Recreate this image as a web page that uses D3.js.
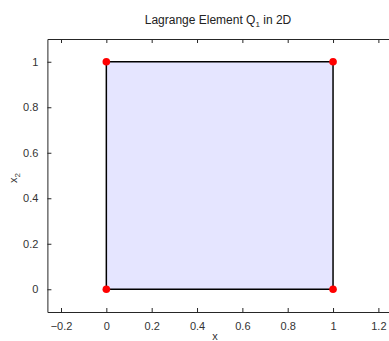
<!DOCTYPE html>
<html><head><meta charset="utf-8">
<script src="https://cdn.jsdelivr.net/npm/d3@7"></script>
<style>body{margin:0;background:#fff}svg{display:block}text{font-family:"Liberation Sans",Arial,sans-serif}</style>
</head><body><svg id="c" width="389" height="341"></svg>
<script>
const nodesX = [0, 1, 1, 0];
const nodesY = [0, 0, 1, 1];
const xTicks = [-0.2, 0, 0.2, 0.4, 0.6, 0.8, 1, 1.2];
const yTicks = [0, 0.2, 0.4, 0.6, 0.8, 1];
const xLim = [-0.26, 1.26];
const yLim = [-0.1, 1.1];

const svg = d3.select("#c");
const x = d3.scaleLinear().domain(xLim).range([47.4, 47.4 + 1.52 * 226.7]);
const y = d3.scaleLinear().domain(yLim).range([312, 39]);
const axisColor = "#262626";

const pts = nodesX.map((v, i) => [v, nodesY[i]]);
svg.append("path")
  .attr("d", d3.line().x(d => x(d[0])).y(d => y(d[1]))(pts) + "Z")
  .attr("fill", "#e5e5ff").attr("stroke", "#000").attr("stroke-width", 1.5);

svg.selectAll("circle.n").data(pts).enter().append("circle")
  .attr("cx", d => x(d[0])).attr("cy", d => y(d[1])).attr("r", 3.8).attr("fill", "#f00");

function fmt(d){ return d3.format("~g")(d); }
const gB = svg.append("g").attr("transform", `translate(0,${y(yLim[0])})`)
  .call(d3.axisBottom(x).tickValues(xTicks).tickSizeInner(-4).tickSizeOuter(0).tickPadding(10).tickFormat(fmt));
const gT = svg.append("g").attr("transform", `translate(0,${y(yLim[1])})`)
  .call(d3.axisTop(x).tickValues(xTicks).tickSizeInner(-4).tickSizeOuter(0).tickFormat(""));
const gL = svg.append("g").attr("transform", `translate(${x(xLim[0])},0)`)
  .call(d3.axisLeft(y).tickValues(yTicks).tickSizeInner(-4).tickSizeOuter(0).tickPadding(9).tickFormat(fmt));
[gB, gT, gL].forEach(g => {
  g.select(".domain").attr("stroke", axisColor).attr("stroke-width", 1);
  g.selectAll(".tick line").attr("stroke", axisColor);
  g.selectAll(".tick text").attr("fill", "#333").style("font-size", "11px").style("font-family", "Liberation Sans, Arial, sans-serif");
});

const title = svg.append("text").attr("x", 218).attr("y", 24).attr("text-anchor", "middle")
  .attr("fill", "#222").style("font-size", "12px");
title.append("tspan").text("Lagrange Element Q");
title.append("tspan").attr("dy", 3).style("font-size", "8px").text("1");
title.append("tspan").attr("dy", -3).text(" in 2D");

svg.append("text").attr("x", 215).attr("y", 340).attr("text-anchor", "middle")
  .attr("fill", "#333").style("font-size", "11px").text("x");

const yl = svg.append("text").attr("transform", "translate(17,178) rotate(-90)").attr("text-anchor", "middle")
  .attr("fill", "#333").style("font-size", "11px");
yl.append("tspan").text("x");
yl.append("tspan").attr("dy", 3).style("font-size", "8px").text("2");
</script></body></html>
